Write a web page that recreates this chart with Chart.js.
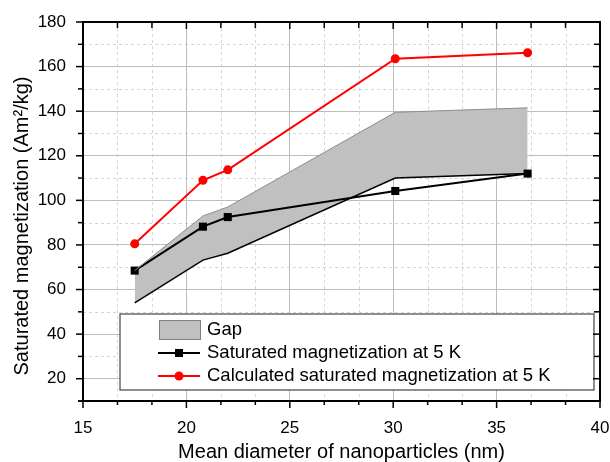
<!DOCTYPE html>
<html>
<head>
<meta charset="utf-8">
<script src="https://cdn.jsdelivr.net/npm/chart.js@4.4.0/dist/chart.umd.min.js"></script>
<style>
  html, body { margin: 0; padding: 0; background: #fff; }
  #wrap { width: 610px; height: 462px; }
</style>
</head>
<body>
<div id="wrap"><canvas id="chart" width="610" height="462"></canvas></div>
<script>
// values
const diameters = [17.5, 20.8, 22.0, 30.1, 36.5];
const gapLower = [54, 73.2, 76.3, 110, 112];
const gapUpper = [68.5, 93, 97, 139.5, 141.5];
const measuredMs = [68.5, 88.2, 92.5, 104.2, 112];
const calculatedMs = [80.5, 109, 113.7, 163.5, 166.2];

const xTicks = [15, 20, 25, 30, 35, 40];
const yTicks = [20, 40, 60, 80, 100, 120, 140, 160, 180];
const yTitle = 'Saturated magnetization (Am\u00B2/kg)';

// minor ticks: 2 between x majors, 1 between y majors
const xMinor = [];
xTicks.slice(0, -1).forEach(v => { xMinor.push(v + 5 / 3, v + 10 / 3); });
const yMinor = [10];
yTicks.forEach(v => yMinor.push(v - 10));

const FONT = 'Liberation Sans, Arial, sans-serif';
const pts = ys => diameters.map((x, i) => ({ x, y: ys[i] }));

const frame = {
  id: 'frame',
  beforeDraw(chart) {
    const { ctx, chartArea: a, scales: { x, y } } = chart;
    ctx.save();
    ctx.strokeStyle = '#d6d6d6';
    ctx.lineWidth = 1;
    ctx.setLineDash([3, 3]);
    xMinor.forEach(v => {
      const px = Math.round(x.getPixelForValue(v)) + 0.5;
      ctx.beginPath(); ctx.moveTo(px, a.top); ctx.lineTo(px, a.bottom); ctx.stroke();
    });
    yMinor.forEach(v => {
      const py = Math.round(y.getPixelForValue(v)) + 0.5;
      ctx.beginPath(); ctx.moveTo(a.left, py); ctx.lineTo(a.right, py); ctx.stroke();
    });
    ctx.restore();
  },
  afterDatasetsDraw(chart) {
    const { ctx } = chart;
    const ds = chart.data.datasets;
    ctx.save();
    ctx.fillStyle = '#fff';
    ctx.strokeStyle = '#444';
    ctx.lineWidth = 1.2;
    ctx.fillRect(120, 314, 474, 76);
    ctx.strokeRect(120, 314, 474, 76);

    ctx.fillStyle = '#c0c0c0';
    ctx.strokeStyle = '#808080';
    ctx.lineWidth = 1;
    ctx.fillRect(159, 320, 41, 19);
    ctx.strokeRect(159.5, 320.5, 41, 19);

    ctx.lineWidth = 2;
    ctx.strokeStyle = '#000';
    ctx.beginPath(); ctx.moveTo(158, 353); ctx.lineTo(200, 353); ctx.stroke();
    ctx.fillStyle = '#000';
    ctx.fillRect(175, 349, 8, 8);
    ctx.strokeStyle = '#ff0000';
    ctx.beginPath(); ctx.moveTo(158, 376); ctx.lineTo(200, 376); ctx.stroke();
    ctx.fillStyle = '#ff0000';
    ctx.beginPath(); ctx.arc(179, 376, 4.5, 0, Math.PI * 2); ctx.fill();

    ctx.fillStyle = '#000';
    ctx.font = '18.5px ' + FONT;
    ctx.textBaseline = 'middle';
    ctx.textAlign = 'left';
    ctx.fillText(ds[1].label, 207, 330);
    ctx.fillText(ds[2].label, 207, 353);
    ctx.fillText(ds[3].label, 207, 376);
    ctx.restore();
  },
  afterDraw(chart) {
    const { ctx, chartArea: a, scales: { x, y } } = chart;
    ctx.save();
    ctx.strokeStyle = '#000';
    ctx.lineWidth = 1.5;
    const line = (x1, y1, x2, y2) => { ctx.beginPath(); ctx.moveTo(x1, y1); ctx.lineTo(x2, y2); ctx.stroke(); };
    xTicks.forEach(v => {
      const px = x.getPixelForValue(v);
      line(px, a.bottom, px, a.bottom + 7);
      line(px, a.top, px, a.top + 7);
    });
    xMinor.forEach(v => {
      const px = x.getPixelForValue(v);
      line(px, a.bottom, px, a.bottom + 4);
      line(px, a.top, px, a.top + 6);
    });
    yTicks.forEach(v => {
      const py = y.getPixelForValue(v);
      line(a.left - 7, py, a.left, py);
      line(a.right - 7, py, a.right, py);
    });
    yMinor.forEach(v => {
      const py = y.getPixelForValue(v);
      line(a.left - 5, py, a.left, py);
      line(a.right - 6, py, a.right, py);
    });
    ctx.lineWidth = 2;
    ctx.strokeRect(a.left, a.top, a.right - a.left, a.bottom - a.top);

    // y title, sits a little below the middle of the axis in the original
    ctx.translate(28, 226);
    ctx.rotate(-Math.PI / 2);
    ctx.fillStyle = '#000';
    ctx.font = '20px ' + FONT;
    ctx.textAlign = 'center';
    ctx.textBaseline = 'alphabetic';
    ctx.fillText(yTitle, 0, 0);
    ctx.restore();
  }
};

new Chart(document.getElementById('chart').getContext('2d'), {
  type: 'line',
  data: {
    datasets: [
      {
        label: 'Gap lower',
        data: pts(gapLower),
        borderColor: '#000',
        borderWidth: 1.5,
        pointRadius: 0,
        fill: false
      },
      {
        label: 'Gap',
        data: pts(gapUpper),
        borderColor: '#8c8c8c',
        borderWidth: 1,
        backgroundColor: '#c0c0c0',
        pointRadius: 0,
        fill: '-1'
      },
      {
        label: 'Saturated magnetization at 5 K',
        data: pts(measuredMs),
        borderColor: '#000',
        backgroundColor: '#000',
        borderWidth: 2,
        pointStyle: 'rect',
        pointRadius: 5.7,
        pointBorderWidth: 0
      },
      {
        label: 'Calculated saturated magnetization at 5 K',
        data: pts(calculatedMs),
        borderColor: '#ff0000',
        backgroundColor: '#ff0000',
        borderWidth: 2,
        pointStyle: 'circle',
        pointRadius: 4.5,
        pointBorderWidth: 0
      }
    ]
  },
  options: {
    responsive: false,
    animation: false,
    devicePixelRatio: 1,
    layout: { padding: { top: 22, right: 10, left: 0, bottom: 0 } },
    plugins: {
      legend: { display: false },
      tooltip: { enabled: false },
      filler: { drawTime: 'beforeDatasetsDraw' }
    },
    scales: {
      x: {
        type: 'linear',
        min: 15,
        max: 40,
        afterFit: s => { s.height = 61; s.paddingLeft = 0; s.paddingRight = 0; },
        afterBuildTicks: s => { s.ticks = xTicks.map(v => ({ value: v })); },
        border: { display: false },
        grid: { color: '#bdbdbd', lineWidth: 1, drawTicks: false },
        ticks: { color: '#000', padding: 17, font: { family: FONT, size: 17 } },
        title: {
          display: true,
          text: 'Mean diameter of nanoparticles (nm)',
          color: '#000',
          padding: { top: 0, bottom: 0 },
          font: { family: FONT, size: 20, lineHeight: 1 }
        }
      },
      y: {
        type: 'linear',
        min: 10,
        max: 180,
        afterFit: s => { s.width = 83; s.paddingTop = 0; s.paddingBottom = 0; },
        afterBuildTicks: s => { s.ticks = yTicks.map(v => ({ value: v })); },
        border: { display: false },
        grid: { color: '#bdbdbd', lineWidth: 1, drawTicks: false },
        ticks: { color: '#000', padding: 17, font: { family: FONT, size: 17 } }
      }
    }
  },
  plugins: [frame]
});
</script>
</body>
</html>
